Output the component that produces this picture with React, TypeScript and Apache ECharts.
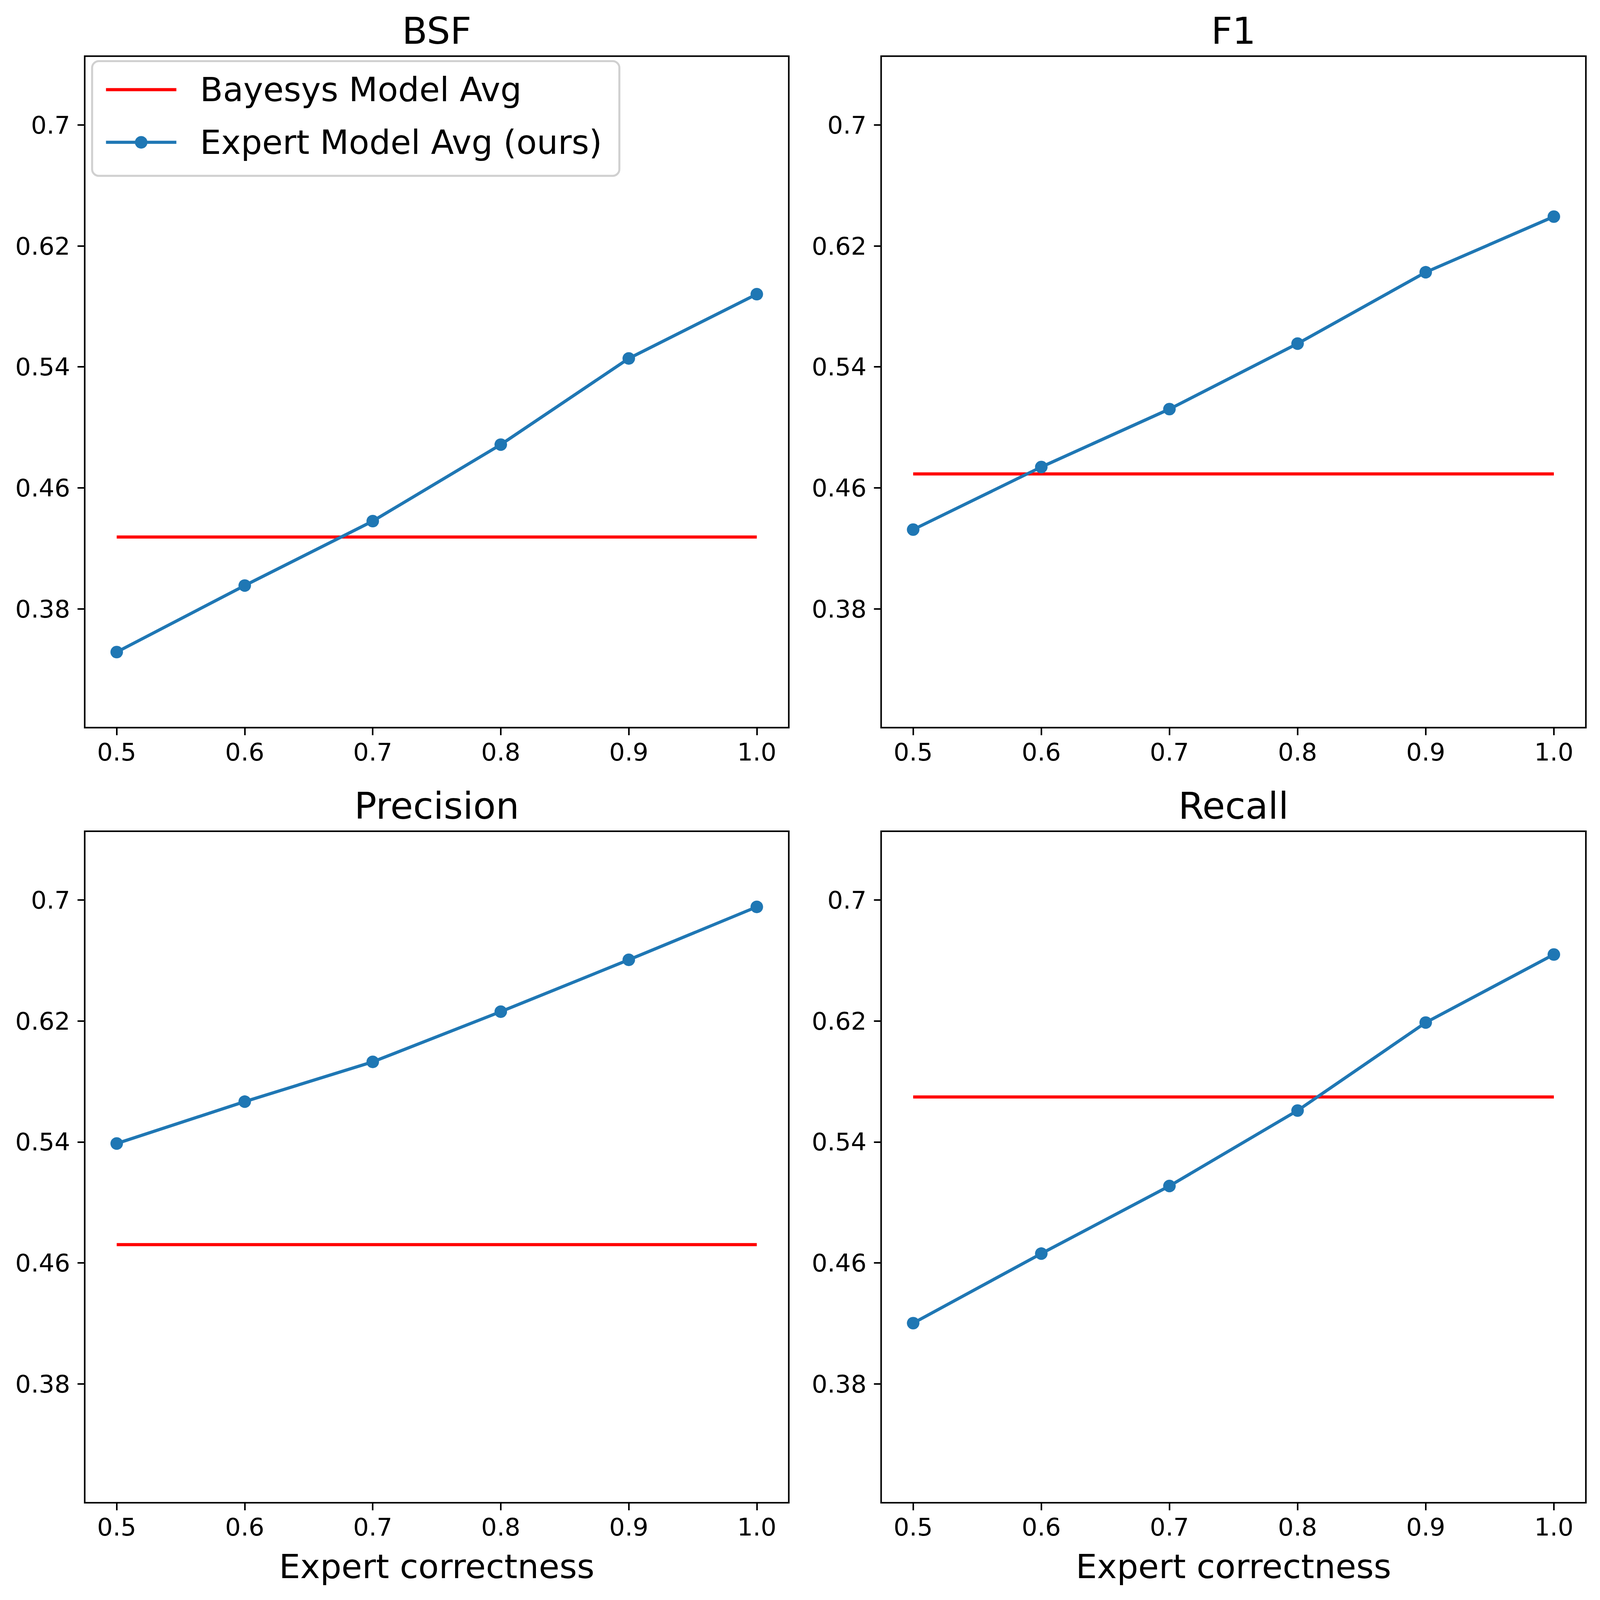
import React, { useEffect, useRef } from "react";
import * as echarts from "echarts";

// ---- data ----
const xValues = [0.5, 0.6, 0.7, 0.8, 0.9, 1.0];
const xTickLabels = [0.5, 0.6, 0.7, 0.8, 0.9, 1.0];
const yTickLabels = [0.38, 0.46, 0.54, 0.62, 0.7];
const yMin = 0.3014;
const yMax = 0.7455;
const xMin = 0.475;
const xMax = 1.025;

const panelTitles = ["BSF", "F1", "Precision", "Recall"];
const bsfExpert = [0.3514, 0.3954, 0.438, 0.4886, 0.5456, 0.5881];
const f1Expert = [0.4324, 0.4738, 0.5121, 0.5554, 0.6026, 0.6394];
const precisionExpert = [0.539, 0.5667, 0.593, 0.6262, 0.6605, 0.6955];
const recallExpert = [0.4202, 0.4662, 0.5109, 0.5608, 0.619, 0.664];
const bayesysAvg = [0.4275, 0.4692, 0.4721, 0.5698];
const expertSeries = [bsfExpert, f1Expert, precisionExpert, recallExpert];

const bayesName = "Bayesys Model Avg";
const expertName = "Expert Model Avg (ours)";
const xAxisName = "Expert correctness";

// ---- layout (reference pixel units, scaled to the viewport) ----
const W = 7140;
const H = 6779;
const colLeft = [378, 3932];
const colWidth = [3142, 3145];
const rowTop = [238, 3522];
const plotH = 2845;
const FONT = "DejaVu Sans";

export default function App() {
  const ref = useRef<HTMLDivElement>(null);
  const vw = typeof window !== "undefined" ? Math.min(window.innerWidth || W, W) : W;
  const vh = typeof window !== "undefined" ? Math.min(window.innerHeight || H, H) : H;
  useEffect(() => {
    if (!ref.current) return;
    const sx = vw / W;
    const sy = vh / H;
    const fs = Math.min(sx, sy);
    const X = (v: number) => v * sx;
    const Y = (v: number) => v * sy;
    const F = (v: number) => v * fs;

    const chart = echarts.init(ref.current, null, { renderer: "svg", width: vw, height: vh });
    const grids: any[] = [];
    const xAxes: any[] = [];
    const yAxes: any[] = [];
    const series: any[] = [];
    const titles: any[] = [];
    const titleCenterY = [131, 3414];
    for (let i = 0; i < 4; i++) {
      const r = Math.floor(i / 2);
      const c = i % 2;
      grids.push({
        left: X(colLeft[c]),
        top: Y(rowTop[r]),
        width: X(colWidth[c]),
        height: Y(plotH),
        show: true,
        borderColor: "#000",
        borderWidth: F(7),
        backgroundColor: "transparent",
      });
      titles.push({
        text: panelTitles[i],
        left: X(colLeft[c] + colWidth[c] / 2),
        top: Y(titleCenterY[r]) - F(83),
        textAlign: "center",
        padding: 0,
        textStyle: { fontFamily: FONT, fontSize: F(165), fontWeight: "normal", color: "#000", lineHeight: F(166) },
      });
      xAxes.push({
        type: "value",
        gridIndex: i,
        min: xMin,
        max: xMax,
        axisLine: { show: false },
        splitLine: { show: false },
        axisTick: { show: true, length: Y(32), lineStyle: { color: "#000", width: F(7) }, customValues: xTickLabels },
        axisLabel: {
          customValues: xTickLabels,
          formatter: (v: number) => v.toFixed(1),
          fontFamily: FONT,
          fontSize: F(110),
          lineHeight: F(110),
          color: "#000",
          margin: Y(103) - F(55),
        },
        name: r === 1 ? xAxisName : "",
        nameLocation: "middle",
        nameGap: Y(269) - F(75),
        nameTextStyle: { fontFamily: FONT, fontSize: F(150), lineHeight: F(150), color: "#000" },
      });
      yAxes.push({
        type: "value",
        gridIndex: i,
        min: yMin,
        max: yMax,
        axisLine: { show: false },
        splitLine: { show: false },
        axisTick: { show: true, length: X(32), lineStyle: { color: "#000", width: F(7) }, customValues: yTickLabels },
        axisLabel: {
          customValues: yTickLabels,
          formatter: (v: number) => String(+v.toFixed(2)),
          fontFamily: FONT,
          fontSize: F(110),
          color: "#000",
          margin: X(65),
        },
      });
      series.push({
        name: bayesName,
        type: "line",
        xAxisIndex: i,
        yAxisIndex: i,
        data: xValues.map((x) => [x, bayesysAvg[i]]),
        symbol: "none",
        lineStyle: { color: "#ff0000", width: F(14) },
        itemStyle: { color: "#ff0000" },
        z: 2,
      });
      series.push({
        name: expertName,
        type: "line",
        xAxisIndex: i,
        yAxisIndex: i,
        data: xValues.map((x, k) => [x, expertSeries[i][k]]),
        symbol: "circle",
        symbolSize: F(56),
        showSymbol: true,
        lineStyle: { color: "#1f77b4", width: F(14) },
        itemStyle: { color: "#1f77b4" },
        z: 3,
      });
    }
    const LH = F(170);
    chart.setOption({
      animation: false,
      backgroundColor: "#fff",
      title: titles,
      grid: grids,
      xAxis: xAxes,
      yAxis: yAxes,
      series,
      legend: {
        data: [{ name: bayesName, itemStyle: { opacity: 0 } }, { name: expertName }],
        orient: "vertical",
        left: X(411),
        top: Y(259),
        padding: [Y(380) - Y(259) - LH / 2, X(77), Y(745) - Y(603) - LH / 2, X(55)],
        itemGap: Y(603) - Y(380) - LH,
        itemWidth: X(314),
        itemHeight: F(70),
        lineStyle: { width: F(14) },
        backgroundColor: "rgba(255,255,255,0.8)",
        borderColor: "#d0d0d0",
        borderWidth: F(9),
        borderRadius: F(30),
        textStyle: {
          fontFamily: FONT,
          fontSize: F(149),
          lineHeight: LH,
          color: "#000",
          padding: [0, 0, 0, X(97)],
        },
      },
    });
    return () => chart.dispose();
  }, []);
  return <div ref={ref} style={{ position: "absolute", left: 0, top: 0, width: vw, height: vh }} />;
}
